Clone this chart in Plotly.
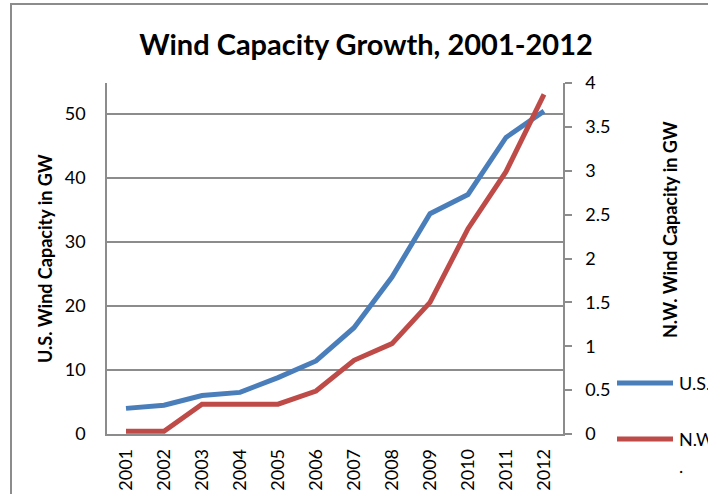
import plotly.graph_objects as go

years = ["2001", "2002", "2003", "2004", "2005", "2006",
         "2007", "2008", "2009", "2010", "2011", "2012"]
us_gw = [4.0, 4.5, 6.0, 6.5, 8.8, 11.4, 16.6, 24.5, 34.4, 37.4, 46.3, 50.4]
nw_gw = [0.03, 0.03, 0.34, 0.34, 0.34, 0.49, 0.84, 1.03, 1.50, 2.34, 2.99, 3.87]
left_ticks = [0, 10, 20, 30, 40, 50]
right_ticks = [0, 0.5, 1, 1.5, 2, 2.5, 3, 3.5, 4]
right_ticklabels = ["0", "0.5", "1", "1.5", "2", "2.5", "3", "3.5", "4"]

BLUE = "#4a7ebb"
RED = "#be4b48"
GRID = "#8c8c8c"
FONT = "Lato"

W, H = 708, 494
L, R, T, B = 107, 145, 83, 60
pw, ph = W - L - R, H - T - B


def px(x):
    return (x - L) / pw


def py(y):
    return (H - B - y) / ph


fig = go.Figure()
fig.add_trace(go.Scatter(x=years, y=us_gw, mode="lines", name="U.S.",
                         line=dict(color=BLUE, width=5), yaxis="y"))
fig.add_trace(go.Scatter(x=years, y=nw_gw, mode="lines", name="N.W.",
                         line=dict(color=RED, width=5), yaxis="y2"))

fig.update_layout(
    width=W, height=H,
    margin=dict(l=L, r=R, t=T, b=B, autoexpand=False),
    paper_bgcolor="white", plot_bgcolor="white",
    showlegend=False,
    font=dict(family=FONT, color="black", size=18),
    xaxis=dict(type="category", range=[-0.5, 11.5], showgrid=False,
               showline=True, linecolor=GRID, linewidth=1.5,
               ticks="", tickangle=-90, ticklabelstandoff=6,
               automargin=False,
               tickfont=dict(size=18, family=FONT)),
    yaxis=dict(range=[0, 54.8], tickvals=left_ticks, showgrid=True,
               gridcolor=GRID, gridwidth=1.5, showline=True,
               linecolor=GRID, linewidth=1.5, ticks="",
               ticklabelstandoff=16, zeroline=False, automargin=False,
               tickfont=dict(size=18, family=FONT)),
    yaxis2=dict(range=[0, 4], tickvals=right_ticks, ticktext=right_ticklabels,
                overlaying="y", side="right", showgrid=False,
                showline=True, linecolor=GRID, linewidth=1.5,
                ticks="outside", ticklen=7, tickcolor=GRID, tickwidth=1.5,
                ticklabelstandoff=10, zeroline=False, automargin=False,
                tickfont=dict(size=18, family=FONT)),
    title=dict(text="<b>Wind Capacity Growth, 2001-2012</b>",
               x=366 / W, xanchor="center", y=1 - 45 / H, yanchor="middle",
               font=dict(size=29, family=FONT, color="black")),
)

annotations = [
    dict(text="<b>U.S. Wind Capacity in GW</b>", x=px(45), y=py(259),
         textangle=-90, font=dict(size=18)),
    dict(text="<b>N.W. Wind Capacity in GW</b>", x=px(670), y=py(230),
         textangle=-90, font=dict(size=18)),
    dict(text="U.S.", x=px(677), y=py(383), xanchor="left", font=dict(size=18)),
    dict(text="N.W", x=px(677), y=py(439), xanchor="left", font=dict(size=18)),
    dict(text=".", x=px(677), y=py(466), xanchor="left", font=dict(size=18)),
]
for a in annotations:
    a.update(xref="paper", yref="paper", showarrow=False)
    a.setdefault("xanchor", "center")
    a["yanchor"] = "middle"
fig.update_layout(annotations=annotations)

fig.add_shape(type="rect", xref="paper", yref="paper",
              x0=px(11), x1=px(W + 20), y0=py(H + 20), y1=py(4),
              line=dict(color=GRID, width=2), fillcolor="rgba(0,0,0,0)",
              layer="below")
fig.add_shape(type="line", xref="paper", yref="paper",
              x0=px(617), x1=px(673), y0=py(383), y1=py(383),
              line=dict(color=BLUE, width=5))
fig.add_shape(type="line", xref="paper", yref="paper",
              x0=px(617), x1=px(673), y0=py(439), y1=py(439),
              line=dict(color=RED, width=5))

fig.write_html("out.html")
